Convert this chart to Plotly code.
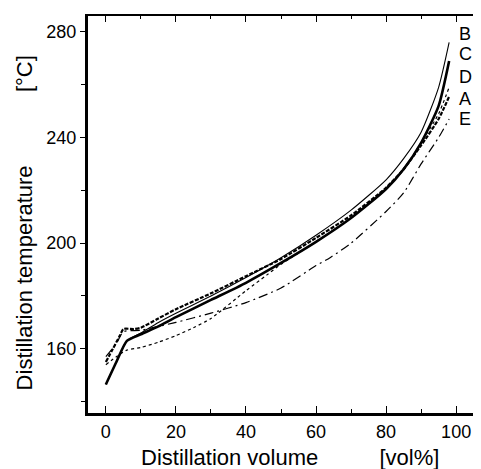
import plotly.graph_objects as go

# distillation curves: volume [vol%] -> temperature [degC]
vol_a = [0, 2, 4, 5, 8, 10, 15, 20, 30, 40, 50, 60, 70, 80, 85, 90, 95, 98]
temp_a = [155, 160, 165, 167.5, 167.5, 168, 171.5, 175, 181, 187.5, 194, 202, 210.5, 221, 228, 237, 247, 255.5]

vol_b = [0, 3, 6, 10, 15, 20, 30, 40, 50, 60, 70, 80, 85, 90, 95, 98]
temp_b = [146.5, 155, 163, 166, 170, 173.5, 180, 187, 194.5, 203, 212.5, 224, 232, 242, 259, 276]

vol_c = [0, 3, 6, 10, 15, 20, 30, 40, 50, 60, 70, 80, 85, 90, 95, 98]
temp_c = [146.5, 155, 163, 165.5, 168.5, 172, 178.5, 185, 192.5, 200.5, 209.5, 220.5, 228, 238, 252, 269]

vol_d = [0, 3, 6, 10, 15, 20, 25, 30, 40, 46, 50, 60, 70, 80, 85, 90, 95, 98]
temp_d = [154, 157, 159.5, 160.5, 162.5, 165, 168, 171.5, 182, 188, 192, 200.5, 209.5, 220.5, 228, 238, 249, 259]

vol_e = [0, 3, 5, 10, 15, 20, 30, 40, 50, 60, 64, 70, 80, 85, 90, 95, 98]
temp_e = [157, 162, 166.5, 167, 168.5, 170, 173.5, 177.5, 183, 191.5, 194.5, 200, 212, 219, 230, 240, 247]

labels = ["B", "C", "D", "A", "E"]
label_y = [279, 271.5, 263, 254.5, 247]

fig = go.Figure()

series = [
    ("A", vol_a, temp_a, dict(color="black", width=2.2, dash="4px,1.5px")),
    ("B", vol_b, temp_b, dict(color="black", width=1.1)),
    ("C", vol_c, temp_c, dict(color="black", width=2.6)),
    ("D", vol_d, temp_d, dict(color="black", width=1.2, dash="3px,3px")),
    ("E", vol_e, temp_e, dict(color="black", width=1.2, dash="9px,4px,2px,4px")),
]
for name, xs, ys, line in series:
    fig.add_trace(go.Scatter(x=xs, y=ys, mode="lines", name=name,
                             line=dict(shape="spline", smoothing=0.6, **line)))

# invisible trace so the top axis gets drawn
fig.add_trace(go.Scatter(x=[0], y=[200], xaxis="x2", mode="markers",
                         marker=dict(opacity=0), showlegend=False, hoverinfo="skip"))

for lab, ly in zip(labels, label_y):
    fig.add_annotation(x=102.6, y=ly, text=lab, showarrow=False,
                       font=dict(size=18, color="black"), xanchor="center", yanchor="middle")

fig.add_annotation(text="Distillation volume" + "&nbsp;" * 10 + "[vol%]", xref="paper", yref="paper",
                   x=0.514, y=-0.075, showarrow=False, yanchor="top",
                   font=dict(size=22, color="black"))
fig.add_annotation(text="Distillation temperature" + "&nbsp;" * 12 + "[°C]", xref="paper", yref="paper",
                   x=-0.163, y=0.48, showarrow=False, textangle=-90, xanchor="center",
                   font=dict(size=22, color="black"))

# page body has an 8px margin, so the figure is 8px smaller and offset accordingly
fig.update_layout(
    width=473, height=461,
    margin=dict(l=80, r=0, t=8, b=56, autoexpand=False),
    plot_bgcolor="white", paper_bgcolor="white",
    showlegend=False,
    font=dict(family="Liberation Sans, Arial, sans-serif", color="black", size=18),
    xaxis=dict(range=[-5.1, 107.1], tickvals=[0, 20, 40, 60, 80, 100], automargin=False,
               showgrid=False, zeroline=False, showline=True, linewidth=3, linecolor="black",
               ticks="inside", ticklen=7, tickwidth=1.2, tickcolor="black",
               minor=dict(ticks="inside", dtick=10, ticklen=4, tickwidth=1, tickcolor="black"),
               tickfont=dict(size=18)),
    xaxis2=dict(range=[-5.1, 107.1], overlaying="x", side="top", showticklabels=False,
                tickvals=[0, 20, 40, 60, 80, 100], automargin=False,
                showgrid=False, zeroline=False, showline=True, linewidth=1.5, linecolor="black",
                ticks="inside", ticklen=6, tickwidth=1.2, tickcolor="black",
                minor=dict(ticks="inside", dtick=10, ticklen=3, tickwidth=1, tickcolor="black")),
    yaxis=dict(range=[135.7, 286], tickvals=[160, 200, 240, 280], automargin=False,
               showgrid=False, zeroline=False, showline=True, linewidth=3, linecolor="black",
               ticks="outside", ticklen=5, tickwidth=1.2, tickcolor="black",
               minor=dict(ticks="outside", dtick=20, ticklen=4, tickwidth=1, tickcolor="black"),
               tickfont=dict(size=18)),
)

fig.write_html("out.html")
